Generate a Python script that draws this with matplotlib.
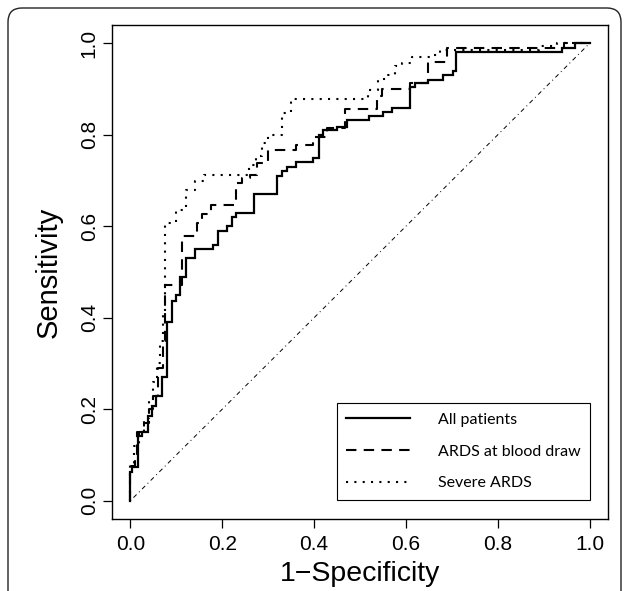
import matplotlib
matplotlib.use("Agg")
import matplotlib.pyplot as plt
from matplotlib.patches import FancyBboxPatch
from matplotlib.transforms import IdentityTransform

# ---- data (false positive rate, true positive rate), step points ----
all_fpr = [0.0, 0.0, 0.004, 0.016, 0.025, 0.038, 0.047, 0.055, 0.068, 0.080, 0.090,
           0.099, 0.109, 0.121, 0.141, 0.181, 0.190, 0.211, 0.221, 0.230, 0.269,
           0.320, 0.330, 0.340, 0.361, 0.398, 0.410, 0.420, 0.449, 0.471, 0.520,
           0.551, 0.570, 0.609, 0.620, 0.649, 0.680, 0.703, 0.709, 0.939, 0.968, 1.0]
all_tpr = [0.0, 0.063, 0.073, 0.142, 0.150, 0.185, 0.207, 0.229, 0.270, 0.390, 0.437,
           0.450, 0.490, 0.530, 0.550, 0.560, 0.590, 0.600, 0.620, 0.630, 0.670,
           0.710, 0.720, 0.730, 0.740, 0.750, 0.800, 0.810, 0.817, 0.833, 0.840,
           0.850, 0.858, 0.905, 0.913, 0.920, 0.930, 0.940, 0.980, 0.990, 1.0, 1.0]

ards_fpr = [0.0, 0.0, 0.010, 0.015, 0.030, 0.040, 0.050, 0.060, 0.070, 0.076, 0.112,
            0.145, 0.155, 0.176, 0.230, 0.243, 0.261, 0.275, 0.300, 0.360, 0.397,
            0.428, 0.467, 0.536, 0.548, 0.609, 0.648, 0.690, 0.945, 1.0]
ards_tpr = [0.0, 0.075, 0.100, 0.150, 0.170, 0.200, 0.230, 0.290, 0.350, 0.472, 0.578,
            0.608, 0.627, 0.647, 0.695, 0.705, 0.713, 0.739, 0.767, 0.778, 0.796,
            0.815, 0.857, 0.884, 0.900, 0.913, 0.960, 0.990, 1.0, 1.0]

severe_fpr = [0.0, 0.0, 0.008, 0.018, 0.030, 0.040, 0.050, 0.058, 0.064, 0.070, 0.076,
              0.100, 0.121, 0.140, 0.160, 0.258, 0.274, 0.287, 0.300, 0.330, 0.350,
              0.517, 0.540, 0.562, 0.576, 0.591, 0.613, 0.656, 0.674, 0.890, 0.930, 1.0]
severe_tpr = [0.0, 0.080, 0.120, 0.150, 0.180, 0.220, 0.260, 0.300, 0.350, 0.410, 0.607,
              0.636, 0.680, 0.698, 0.711, 0.734, 0.754, 0.782, 0.800, 0.847, 0.878,
              0.898, 0.921, 0.931, 0.950, 0.956, 0.971, 0.974, 0.985, 0.993, 1.0, 1.0]

series_labels = ["All patients", "ARDS at blood draw", "Severe ARDS"]
ticks = [0.0, 0.2, 0.4, 0.6, 0.8, 1.0]
tick_labels = ["0.0", "0.2", "0.4", "0.6", "0.8", "1.0"]
chance = [0.0, 1.0]

plt.rcParams['font.family'] = ['Liberation Sans', 'DejaVu Sans']

fig = plt.figure(figsize=(6.27, 5.91), dpi=100)
ax = fig.add_axes([112/627, 72/591, 496/627, 494/591])

l1, = ax.plot(all_fpr, all_tpr, drawstyle='steps-post', color='black', lw=1.6,
              solid_joinstyle='miter')
l2, = ax.plot(ards_fpr, ards_tpr, drawstyle='steps-post', color='black', lw=1.5,
              linestyle=(0, (5, 3.5)))
l3, = ax.plot(severe_fpr, severe_tpr, drawstyle='steps-post', color='black', lw=1.5,
              linestyle=(0, (1, 3)))
ax.plot(chance, chance, color='black', lw=0.7, linestyle=(0, (1, 3.5, 4.5, 3.5)))

ax.set_xlim(-0.04, 1.04)
ax.set_ylim(-0.04, 1.04)
ax.set_xticks(ticks)
ax.set_xticklabels(tick_labels)
ax.set_yticks(ticks)
ax.set_yticklabels(tick_labels)
ax.tick_params(axis='both', direction='out', length=6.5, width=0.9, labelsize=15,
               color='black')
ax.tick_params(axis='x', pad=5)
ax.tick_params(axis='y', pad=3, labelrotation=90)
for lab in ax.get_yticklabels():
    lab.set_va('center')
for sp in ax.spines.values():
    sp.set_linewidth(1.0)

ax.set_xlabel("1\u2212Specificity", fontsize=20.5, labelpad=5)
ax.set_ylabel("Sensitivity", fontsize=21, labelpad=12)

leg = ax.legend([l1, l2, l3], series_labels, loc='lower right',
                bbox_to_anchor=(590/627, (591-500)/591), bbox_transform=fig.transFigure,
                prop={'family': 'Lato', 'size': 11.5}, handlelength=4.0,
                handletextpad=1.7, labelspacing=1.1, borderpad=0.61,
                fancybox=False, framealpha=1, edgecolor='black', borderaxespad=0)
leg.get_frame().set_linewidth(0.8)

frame = FancyBboxPatch((8, -30), 613, 583 + 30, boxstyle='round,pad=0,rounding_size=14',
                       transform=IdentityTransform(), fill=False, edgecolor='#222222',
                       lw=1.0)
fig.patches.append(frame)

fig.savefig('out.png', dpi=100)
